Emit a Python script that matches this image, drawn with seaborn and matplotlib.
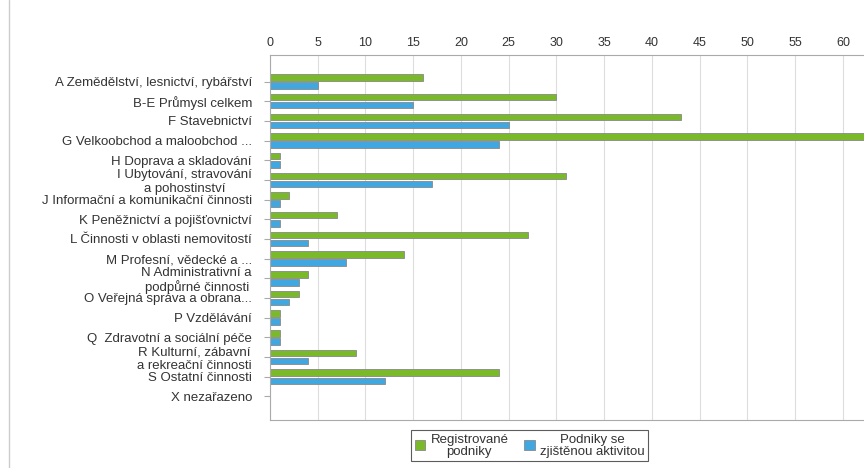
import matplotlib
matplotlib.use("Agg")
import matplotlib.pyplot as plt
import seaborn as sns
import pandas as pd
from matplotlib.lines import Line2D
from matplotlib.patches import Patch

categories = [
    "A Zemědělství, lesnictví, rybářství",
    "B-E Průmysl celkem",
    "F Stavebnictví",
    "G Velkoobchod a maloobchod ...",
    "H Doprava a skladování",
    "I Ubytování, stravování\na pohostinství",
    "J Informační a komunikační činnosti",
    "K Peněžnictví a pojišťovnictví",
    "L Činnosti v oblasti nemovitostí",
    "M Profesní, vědecké a ...",
    "N Administrativní a\npodpůrné činnosti",
    "O Veřejná správa a obrana...",
    "P Vzdělávání",
    "Q  Zdravotní a sociální péče",
    "R Kulturní, zábavní\na rekreační činnosti",
    "S Ostatní činnosti",
    "X nezařazeno",
]
registered = [16, 30, 43, 64, 1, 31, 2, 7, 27, 14, 4, 3, 1, 1, 9, 24, 0]
active = [5, 15, 25, 24, 1, 17, 1, 1, 4, 8, 3, 2, 1, 1, 4, 12, 0]
series_names = ["Registrované\npodniky", "Podniky se\nzjištěnou aktivitou"]
x_ticks = list(range(0, 65, 5))

green = "#7ab929"
blue = "#41a7e1"

df = pd.DataFrame({
    "cat": categories * 2,
    "val": registered + active,
    "series": [series_names[0]] * len(categories) + [series_names[1]] * len(categories),
})

sns.set_theme(style="white")
plt.rcParams["font.family"] = ["Liberation Sans", "DejaVu Sans"]

fig = plt.figure(figsize=(8.64, 4.68), dpi=100)
ax = fig.add_axes([0.3125, 0.1026, 0.6875, 0.7799])

sns.barplot(data=df, y="cat", x="val", hue="series", orient="h",
            palette=[green, blue], saturation=1, width=0.82, gap=0.2,
            edgecolor="#888888", linewidth=0.6, ax=ax, legend=False,
            order=categories, hue_order=series_names)

ax.set_xlim(0, 62.2)
ax.set_ylim(len(categories) - 1 + 1.2, -1.35)
ax.xaxis.tick_top()
ax.set_xticks(x_ticks)
ax.set_xticklabels([str(t) for t in x_ticks], fontsize=9, color="#333333")
ax.tick_params(axis="x", length=0, pad=4)
ax.tick_params(axis="y", length=4, width=0.8, color="#aaaaaa", labelsize=9.5,
               labelcolor="#333333", pad=9, left=True)
ax.set_xlabel("")
ax.set_ylabel("")
ax.grid(axis="x", color="#dddddd", linewidth=0.8)
ax.set_axisbelow(True)
for s in ["top", "left", "bottom"]:
    ax.spines[s].set_color("#aaaaaa")
    ax.spines[s].set_linewidth(0.8)
ax.spines["right"].set_visible(False)
for lab in ax.get_yticklabels():
    lab.set_horizontalalignment("right")
    lab.set_multialignment("center")
    lab.set_linespacing(1.15)

handles = [Patch(facecolor=green, edgecolor="#888888", linewidth=0.6),
           Patch(facecolor=blue, edgecolor="#888888", linewidth=0.6)]
leg = fig.legend(handles, series_names, loc="center", bbox_to_anchor=(0.613, 0.048),
                 ncol=2, fontsize=9.5, frameon=True, fancybox=False,
                 edgecolor="#333333", handlelength=0.8, handleheight=0.8,
                 handletextpad=0.4, columnspacing=1.2, borderpad=0.25)
leg.get_frame().set_linewidth(0.8)
for t in leg.get_texts():
    t.set_multialignment("center")
    t.set_color("#333333")
    t.set_linespacing(1.0)

fig.add_artist(Line2D([0.0105, 0.0105], [0, 1], transform=fig.transFigure,
                      color="#cccccc", linewidth=1))

fig.savefig("out.png", dpi=100)
